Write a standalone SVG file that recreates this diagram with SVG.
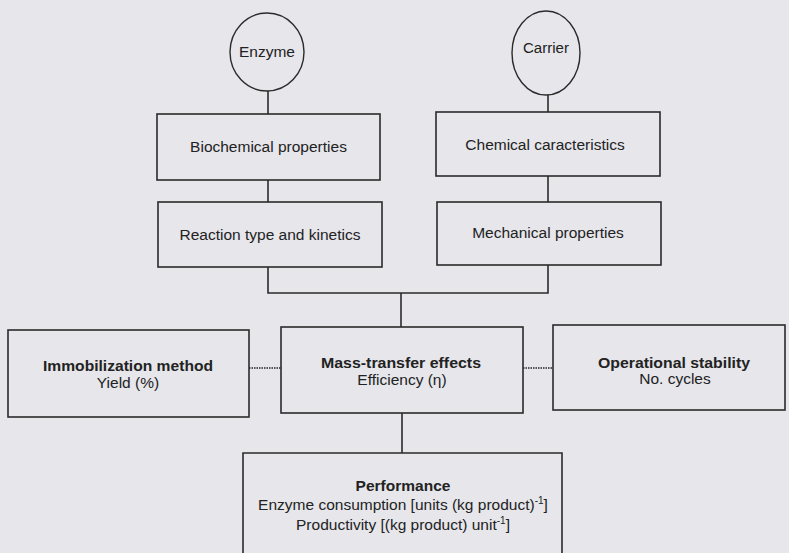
<svg xmlns="http://www.w3.org/2000/svg" width="789" height="553" viewBox="0 0 789 553">
<style>
.bg{fill:#e6e6eb}
.box{fill:none;stroke:#2b2b2b;stroke-width:1.6}
.ell{fill:none;stroke:#2b2b2b;stroke-width:1.4}
.ln{fill:none;stroke:#2b2b2b;stroke-width:1.6}
.dot{fill:none;stroke:#555;stroke-width:2;stroke-dasharray:1.5 1}
text{font-family:"Liberation Sans",Arial,sans-serif;font-size:15.5px;fill:#222;text-anchor:middle}
.b{font-weight:bold}
.sup{font-size:10px}
</style>
<rect class="bg" x="0" y="0" width="789" height="553"/>
<g id="connectors">
<line class="ln" x1="268" y1="91" x2="268" y2="114"/>
<line class="ln" x1="548" y1="95" x2="548" y2="112"/>
<line class="ln" x1="268" y1="180" x2="268" y2="202"/>
<line class="ln" x1="548" y1="176" x2="548" y2="202"/>
<polyline class="ln" points="268,267 268,293 548,293 548,265"/>
<line class="ln" x1="401" y1="293" x2="401" y2="327"/>
<line class="dot" x1="249" y1="368" x2="281" y2="368"/>
<line class="dot" x1="523" y1="368" x2="553" y2="368"/>
<line class="ln" x1="402" y1="413" x2="402" y2="453"/>
</g>
<g id="enzyme">
<ellipse class="ell" cx="267" cy="52" rx="37" ry="39"/>
<text x="267" y="57" textLength="56" lengthAdjust="spacingAndGlyphs">Enzyme</text>
</g>
<g id="carrier">
<ellipse class="ell" cx="546" cy="53" rx="34" ry="42"/>
<text x="546" y="53" textLength="46" lengthAdjust="spacingAndGlyphs">Carrier</text>
</g>
<g id="biochemical">
<rect class="box" x="157" y="114" width="223" height="66"/>
<text x="268.5" y="152">Biochemical properties</text>
</g>
<g id="chemical">
<rect class="box" x="436" y="112" width="224" height="64"/>
<text x="545" y="150">Chemical caracteristics</text>
</g>
<g id="reaction">
<rect class="box" x="158" y="202" width="224" height="65"/>
<text x="270" y="240">Reaction type and kinetics</text>
</g>
<g id="mechanical">
<rect class="box" x="437" y="202" width="224" height="63"/>
<text x="548" y="238">Mechanical properties</text>
</g>
<g id="immobilization">
<rect class="box" x="8" y="330" width="241" height="87"/>
<text class="b" x="128" y="371" textLength="170" lengthAdjust="spacingAndGlyphs">Immobilization method</text>
<text x="128" y="388">Yield (%)</text>
</g>
<g id="mass-transfer">
<rect class="box" x="281" y="327" width="242" height="86"/>
<text class="b" x="401" y="368" textLength="160" lengthAdjust="spacingAndGlyphs">Mass-transfer effects</text>
<text x="402" y="385">Efficiency (η)</text>
</g>
<g id="operational">
<rect class="box" x="553" y="325" width="232" height="85"/>
<text class="b" x="674" y="368" textLength="152" lengthAdjust="spacingAndGlyphs">Operational stability</text>
<text x="675" y="384">No. cycles</text>
</g>
<g id="performance">
<path class="box" d="M243,556 V453 H562 V556"/>
<text class="b" x="403" y="491">Performance</text>
<text x="403" y="510">Enzyme consumption [units (kg product)<tspan class="sup" dy="-6">-1</tspan><tspan dy="6">]</tspan></text>
<text x="403" y="530">Productivity [(kg product) unit<tspan class="sup" dy="-6">-1</tspan><tspan dy="6">]</tspan></text>
</g>
</svg>
